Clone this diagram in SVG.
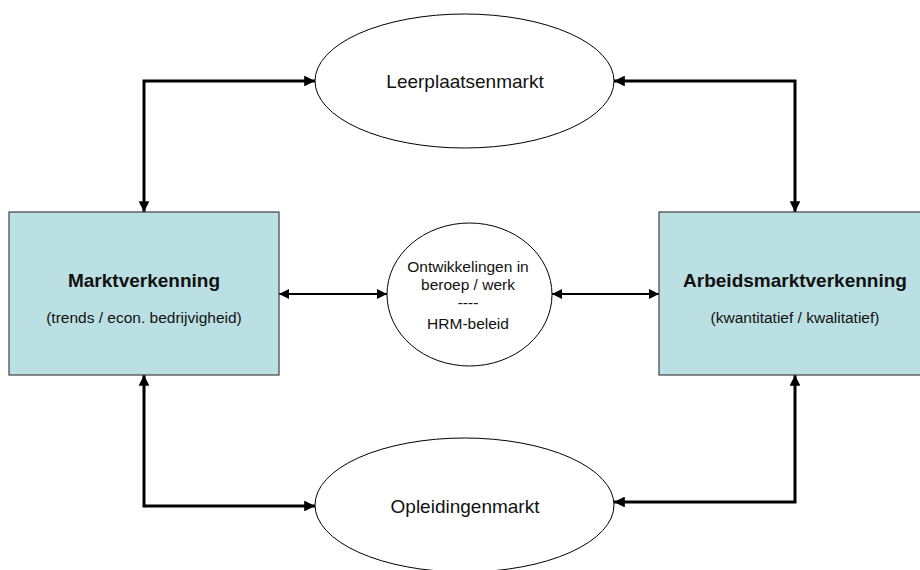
<svg xmlns="http://www.w3.org/2000/svg" width="920" height="570" viewBox="0 0 920 570">
<defs>
<marker id="ah" viewBox="0 0 10 10" refX="10" refY="5" markerWidth="3.6" markerHeight="3.6" orient="auto-start-reverse" markerUnits="strokeWidth">
<path d="M0,0 L10,5 L0,10 z" fill="#000"/>
</marker>
<marker id="ahs" viewBox="0 0 10 10" refX="10" refY="5" markerWidth="5" markerHeight="5" orient="auto-start-reverse" markerUnits="strokeWidth">
<path d="M0,0 L10,5 L0,10 z" fill="#000"/>
</marker>
<style>
.box{fill:#BBE0E3;stroke:#404040;stroke-width:1.2}
.ell{fill:#fff;stroke:#000;stroke-width:1}
.t{font-family:"Liberation Sans",Arial,sans-serif;fill:#111;text-anchor:middle}
.big{font-size:19px}
.bold{font-size:19px;font-weight:bold}
.sm{font-size:15.5px}
.con{fill:none;stroke:#000;stroke-width:3;marker-start:url(#ah);marker-end:url(#ah)}
.con2{fill:none;stroke:#000;stroke-width:2;marker-start:url(#ahs);marker-end:url(#ahs)}
</style>
</defs>
<rect width="920" height="570" fill="#fff"/>
<g id="connectors">
<path class="con" d="M144,212 V81 H315"/>
<path class="con" d="M795,212 V81 H614"/>
<path class="con" d="M144,375 V506 H315"/>
<path class="con" d="M795,375 V502 H614"/>
<path class="con2" d="M279,294 H387"/>
<path class="con2" d="M552,294 H659"/>
</g>
<g id="leerplaatsenmarkt">
<ellipse class="ell" cx="464.5" cy="81" rx="149.5" ry="67"/>
<text class="t big" x="465" y="88">Leerplaatsenmarkt</text>
</g>
<g id="opleidingenmarkt">
<ellipse class="ell" cx="464.5" cy="505" rx="149.5" ry="67"/>
<text class="t big" x="465" y="513">Opleidingenmarkt</text>
</g>
<g id="marktverkenning">
<rect class="box" x="9" y="212" width="270" height="163"/>
<text class="t bold" x="144" y="287">Marktverkenning</text>
<text class="t sm" x="144" y="323">(trends / econ. bedrijvigheid)</text>
</g>
<g id="arbeidsmarktverkenning">
<rect class="box" x="659" y="212" width="272" height="163"/>
<text class="t bold" x="795" y="287">Arbeidsmarktverkenning</text>
<text class="t sm" x="795" y="323">(kwantitatief / kwalitatief)</text>
</g>
<g id="ontwikkelingen">
<ellipse class="ell" cx="469.5" cy="294.5" rx="82.5" ry="71.5"/>
<text class="t sm" x="468" y="272">Ontwikkelingen in</text>
<text class="t sm" x="468" y="290">beroep / werk</text>
<text class="t sm" x="468" y="308">----</text>
<text class="t sm" x="468" y="329">HRM-beleid</text>
</g>
</svg>
